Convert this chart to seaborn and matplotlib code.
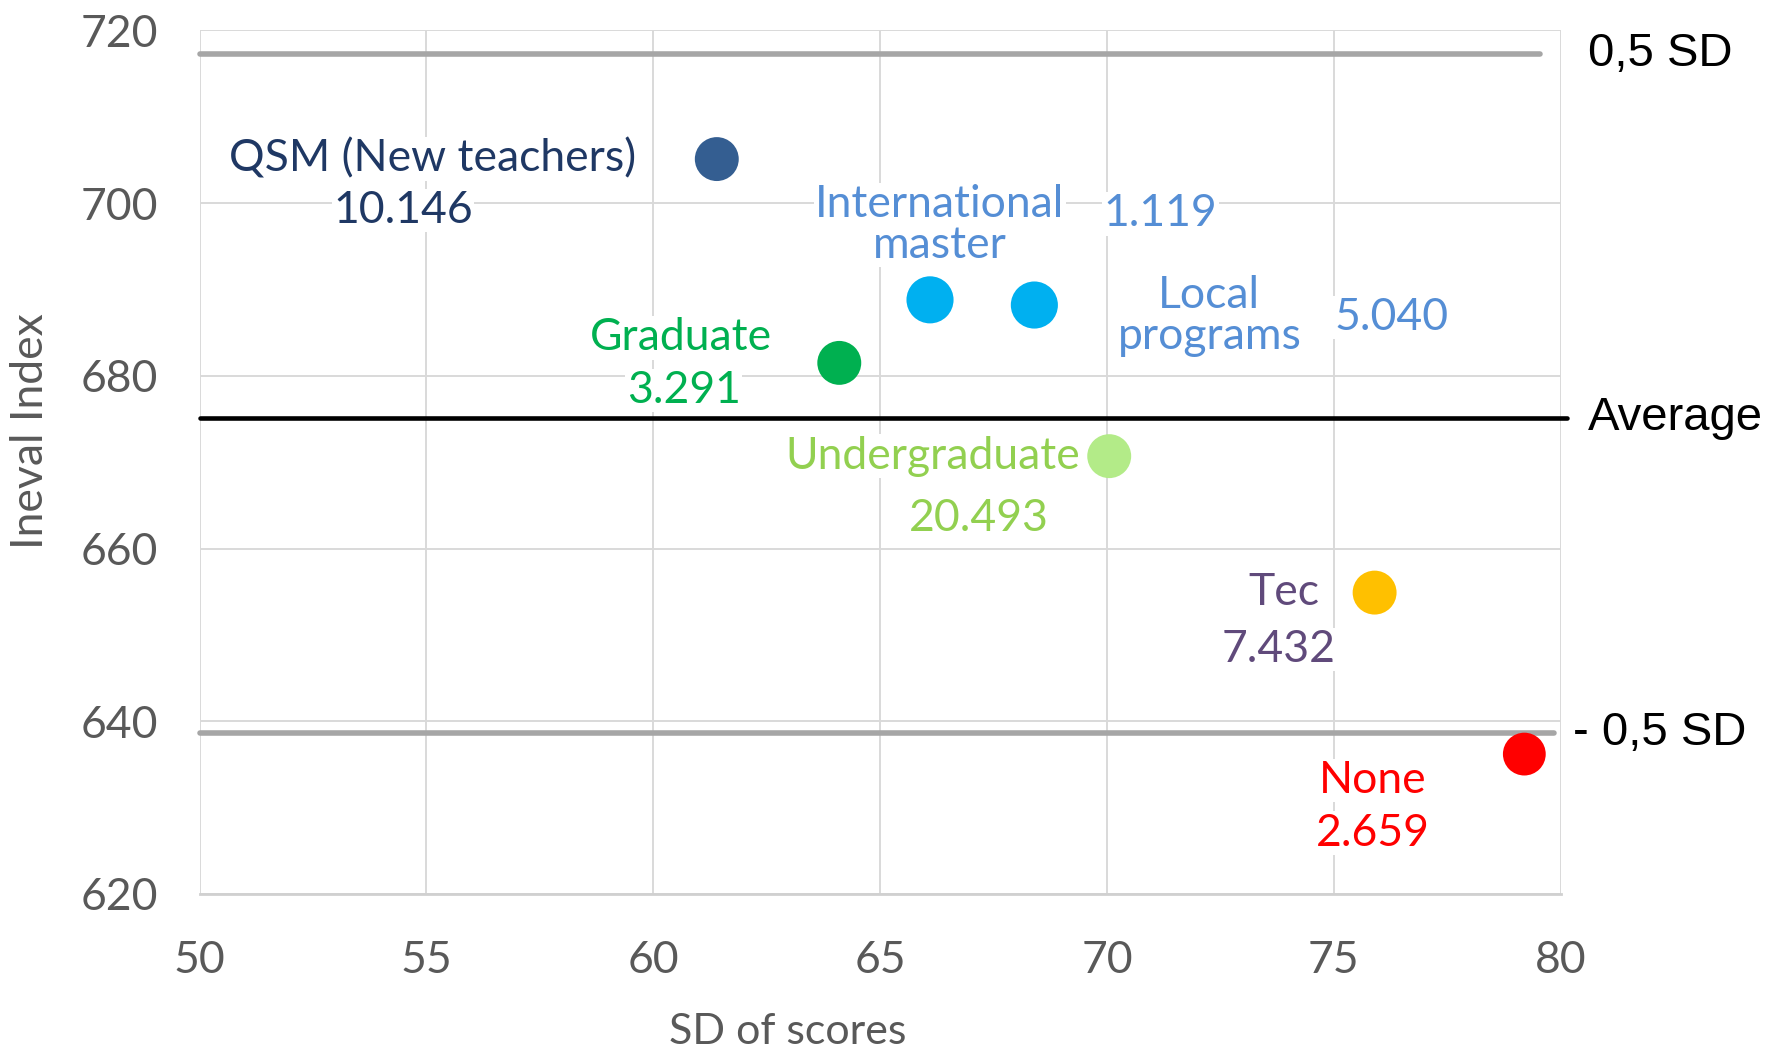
import matplotlib
matplotlib.use("Agg")
import matplotlib.pyplot as plt
import seaborn as sns
import pandas as pd

# data
groups = ["QSM (New teachers)", "International\nmaster", "Local\nprograms",
          "Graduate", "Undergraduate", "Tec", "None"]
sd_scores = [61.4, 66.1, 68.4, 64.1, 70.05, 75.9, 79.2]
ineval = [705.1, 688.8, 688.2, 681.5, 670.7, 654.9, 636.2]
counts = [10146, 1119, 5040, 3291, 20493, 7432, 2659]

ref_names = ["0,5 SD", "Average", "- 0,5 SD"]
ref_levels = [717.3, 675.1, 638.6]

x_ticks = [50, 55, 60, 65, 70, 75, 80]
y_ticks = [620, 640, 660, 680, 700, 720]

# styles
marker_colors = ["#345E91", "#00B0F0", "#00B0F0", "#00B050", "#B3EB88", "#FFC000", "#FF0000"]
text_colors = ["#1F3864", "#558ED5", "#558ED5", "#00B050", "#92D050", "#604A7B", "#FF0000"]
marker_sizes = [1000, 1150, 1150, 1000, 1000, 1000, 950]
# (name offset, count offset) in points from each marker
name_offsets = [(-205, 0), (7, 54), (126, -8), (-114, 18), (-127, 0), (-65, 0), (-109, -19)]
count_offsets = [(-226, -37), (166, 62), (257, -9), (-112, -20), (-94, -45), (-69, -41), (-109, -57)]
ref_styles = [("#A6A6A6", 4.0, 0.985, 1.02), ("#000000", 3.3, 1.005, 1.02), ("#A6A6A6", 4.0, 0.995, 1.009)]

df = pd.DataFrame({"group": groups, "sd": sd_scores, "ineval": ineval, "n": counts})

sns.set_style("white")
plt.rcParams["font.family"] = ["Lato", "DejaVu Sans"]

fig = plt.figure(figsize=(17.68, 10.52), dpi=100)
ax = fig.add_axes([0.1129, 0.1502, 0.7698, 0.8209])

ax.set_xlim(50, 80)
ax.set_ylim(620, 720)
ax.set_xticks(x_ticks)
ax.set_yticks(y_ticks)
ax.grid(True, color="#D9D9D9", linewidth=1.4, zorder=0)
ax.set_axisbelow(True)
for side in ["top", "right", "left"]:
    ax.spines[side].set_visible(False)
ax.spines["bottom"].set_color("#D0D0D0")
ax.spines["bottom"].set_linewidth(2)
ax.tick_params(length=0, labelsize=32, labelcolor="#595959")
ax.tick_params(axis="y", pad=30)
ax.tick_params(axis="x", pad=33)

# reference lines
for name, level, (col, lw, xmax, tx) in zip(ref_names, ref_levels, ref_styles):
    ax.axhline(level, xmin=0, xmax=xmax, color=col, linewidth=lw, zorder=2, clip_on=False)
    ax.text(tx, level, name, transform=ax.get_yaxis_transform(), ha="left", va="center",
            fontsize=34, family="Liberation Sans", color="black", clip_on=False,
            bbox=dict(facecolor="white", edgecolor="none", pad=2))

sns.scatterplot(data=df, x="sd", y="ineval", hue="group", palette=marker_colors,
                size="group", sizes=dict(zip(groups, marker_sizes)),
                edgecolor="none", legend=False, ax=ax, zorder=4, clip_on=False)

for i, row in df.iterrows():
    label = f"{row['n']:,}".replace(",", ".")
    for txt, off in [(row["group"], name_offsets[i]), (label, count_offsets[i])]:
        ax.annotate(txt, xy=(row["sd"], row["ineval"]), xytext=off, textcoords="offset points",
                    ha="center", va="center", fontsize=32, color=text_colors[i],
                    linespacing=1.0, zorder=3,
                    bbox=dict(facecolor="white", edgecolor="none", pad=1))

ax.set_xlabel("SD of scores", fontsize=31, color="#595959")
ax.set_ylabel("Ineval Index", fontsize=32, color="#595959")
ax.xaxis.label.set_va("center")
ax.yaxis.label.set_va("center")
ax.xaxis.set_label_coords(0.432, -0.1596)
ax.yaxis.set_label_coords(-0.1243, 0.5365)

fig.savefig("out.png", dpi=100)
